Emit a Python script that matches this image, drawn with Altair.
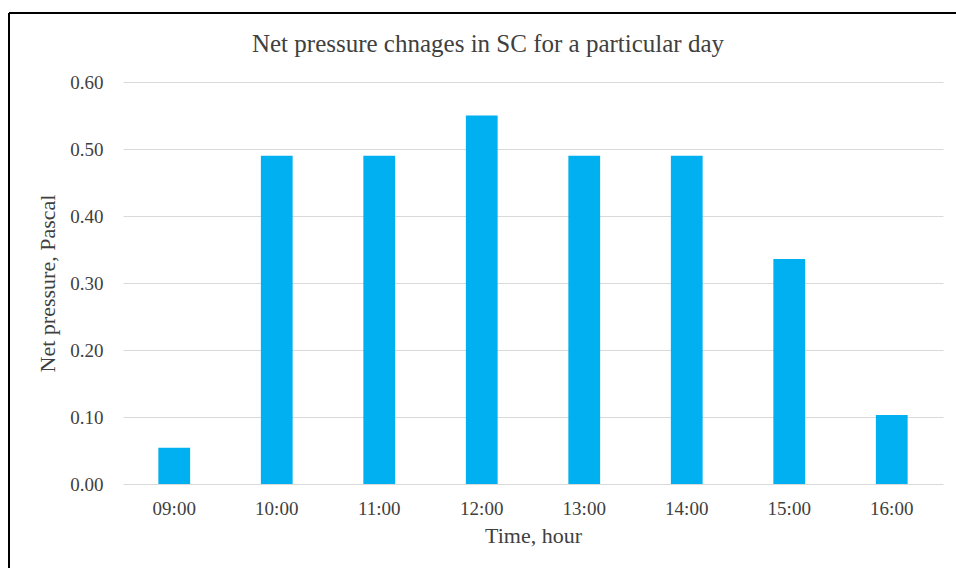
import altair as alt
import pandas as pd

hours = ["09:00", "10:00", "11:00", "12:00", "13:00", "14:00", "15:00", "16:00"]
pressure = [0.054, 0.49, 0.49, 0.55, 0.49, 0.49, 0.336, 0.103]

df = pd.DataFrame({"hour": hours, "pressure": pressure})

FONT = "Liberation Serif"
TXT = "#404040"

bars = alt.Chart(df).mark_bar(color="#00B0F0").encode(
    x=alt.X("hour:N", sort=hours, title="Time, hour",
            scale=alt.Scale(paddingInner=0.69, paddingOuter=0.345),
            axis=alt.Axis(labelAngle=0, labelFontSize=19, labelColor=TXT,
                          labelBaseline="alphabetic", labelPadding=30,
                          titleFontSize=22, titleFontWeight="normal", titleColor=TXT,
                          titleBaseline="alphabetic", titleY=58,
                          domain=False, ticks=False, grid=False,
                          labelFont=FONT, titleFont=FONT)),
    y=alt.Y("pressure:Q", title="Net pressure, Pascal",
            scale=alt.Scale(domain=[0, 0.6], nice=False),
            axis=alt.Axis(values=[0, 0.1, 0.2, 0.3, 0.4, 0.5, 0.6], format=".2f",
                          labelFontSize=19, labelColor=TXT, labelPadding=20,
                          titleFontSize=22, titleFontWeight="normal", titleColor=TXT,
                          titleBaseline="alphabetic", titleX=-69, titleY=201,
                          domain=False, ticks=False, gridColor="#d9d9d9",
                          gridWidth=1, labelFont=FONT, titleFont=FONT)),
)

frame_top = alt.Chart(df).mark_rule(color="black", strokeWidth=2).encode(
    x=alt.value(-114), x2=alt.value(840), y=alt.value(-69)
)
frame_left = alt.Chart(df).mark_rule(color="black", strokeWidth=2).encode(
    x=alt.value(-114), y=alt.value(-69), y2=alt.value(490)
)

chart = alt.layer(bars, frame_top, frame_left).properties(
    width=820, height=402,
    title=alt.TitleParams("Net pressure chnages in SC for a particular day",
                          font=FONT, fontSize=25, fontWeight="normal",
                          color=TXT, anchor="middle", frame="group",
                          baseline="alphabetic", dx=-45, offset=-65),
    autosize=alt.AutoSizeParams(type="none"),
    padding={"left": 123, "top": 82, "right": 13, "bottom": 84},
    background="white",
).configure_view(stroke=None)

chart.save("out.html", embed_options={"renderer": "svg", "actions": False})
